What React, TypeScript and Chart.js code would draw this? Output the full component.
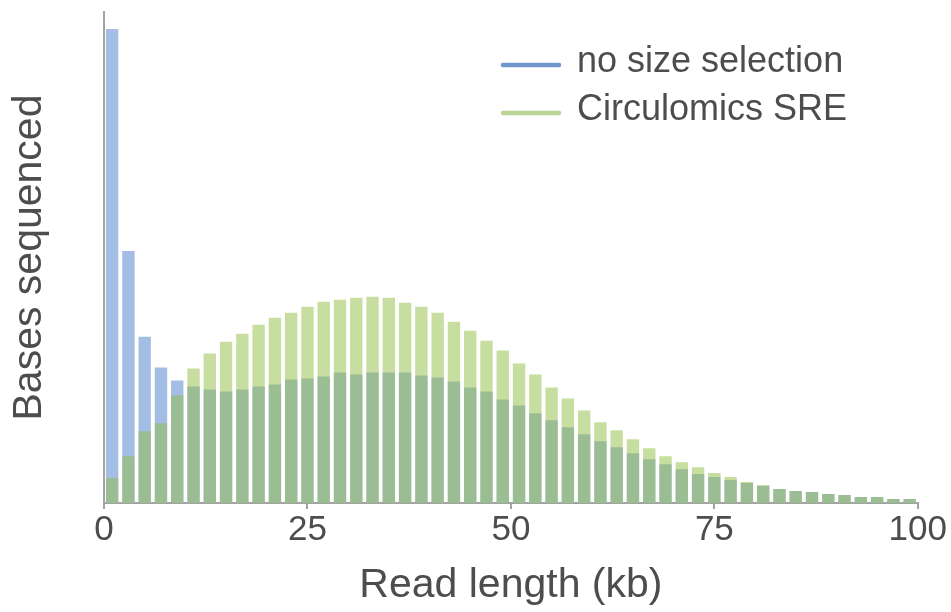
import React, { useEffect, useRef } from "react";
import { Chart, registerables } from "chart.js";

Chart.register(...registerables);

// Histogram bins (kb), 2 kb wide, given by their centres
const binCenters = [
  1, 3, 5, 7, 9, 11, 13, 15, 17, 19, 21, 23, 25, 27, 29, 31, 33, 35, 37, 39,
  41, 43, 45, 47, 49, 51, 53, 55, 57, 59, 61, 63, 65, 67, 69, 71, 73, 75, 77, 79,
  81, 83, 85, 87, 89, 91, 93, 95, 97, 99,
];

// Bases sequenced (relative units)
const noSizeSelection = [
  476, 253, 167, 136, 123, 117, 114, 112, 114, 117, 119, 124, 125, 127, 131, 129, 131, 131, 131, 128,
  126, 122, 116, 112, 104, 98, 90, 83, 76, 69, 62, 56, 50, 44, 39, 34, 29, 26, 23, 20,
  17, 14, 12, 11, 9, 8, 6, 6, 4, 4,
];
const circulomicsSRE = [
  25, 47, 72, 80, 108, 135, 150, 162, 170, 179, 186, 191, 197, 202, 204, 206, 207, 206, 201, 197,
  191, 182, 173, 163, 153, 140, 129, 116, 105, 93, 81, 73, 64, 55, 47, 41, 36, 30, 26, 21,
  18, 14, 12, 11, 9, 8, 6, 6, 4, 4,
];

const seriesLabels = ["no size selection", "Circulomics SRE"];
const legendColors = ["#7096cc", "#b9d494"];
const xTicks = [0, 25, 50, 75, 100];
const yMax = 493;

const FONT = "'Liberation Sans', Arial, Helvetica, sans-serif";
const TEXT = "#4d4d4d";
const AXIS = "#a3a3a3";

const insideLegend = {
  id: "insideLegend",
  afterDraw(chart: any) {
    const { ctx, chartArea } = chart;
    const lineStart = chartArea.left + 399;
    const lineEnd = lineStart + 56;
    const textX = lineEnd + 18;
    const firstY = chartArea.top + 53;
    const rowGap = 48;
    ctx.save();
    ctx.font = `36px ${FONT}`;
    ctx.textAlign = "left";
    ctx.textBaseline = "middle";
    seriesLabels.forEach((label, i) => {
      const y = firstY + i * rowGap;
      ctx.strokeStyle = legendColors[i];
      ctx.lineWidth = 4.5;
      ctx.lineCap = "round";
      ctx.beginPath();
      ctx.moveTo(lineStart, y);
      ctx.lineTo(lineEnd, y);
      ctx.stroke();
      ctx.fillStyle = TEXT;
      ctx.fillText(label, textX, y - 3);
    });
    ctx.restore();
  },
};

export default function App() {
  const canvasRef = useRef<HTMLCanvasElement | null>(null);

  useEffect(() => {
    if (!canvasRef.current) return;
    const chart = new Chart(canvasRef.current, {
      type: "bar",
      data: {
        datasets: [
          {
            label: seriesLabels[1],
            data: binCenters.map((x, i) => ({ x, y: circulomicsSRE[i] })),
            backgroundColor: "rgba(145,189,65,0.5)",
            borderWidth: 0,
            grouped: false,
            order: 0,
            barPercentage: 0.76,
            categoryPercentage: 1,
          } as any,
          {
            label: seriesLabels[0],
            data: binCenters.map((x, i) => ({ x, y: noSizeSelection[i] })),
            backgroundColor: "#a3bde4",
            borderWidth: 0,
            grouped: false,
            order: 1,
            barPercentage: 0.76,
            categoryPercentage: 1,
          } as any,
        ],
      },
      options: {
        animation: false,
        responsive: true,
        maintainAspectRatio: false,
        layout: { padding: { top: 12, right: 33, bottom: 0, left: 0 } },
        plugins: {
          legend: { display: false },
          tooltip: { enabled: false },
        },
        scales: {
          x: {
            type: "linear",
            min: 0,
            max: 100,
            offset: false,
            afterBuildTicks: (scale: any) => {
              scale.ticks = xTicks.map((v) => ({ value: v }));
            },
            grid: {
              offset: false,
              drawOnChartArea: false,
              drawTicks: true,
              tickLength: 6,
              color: AXIS,
              lineWidth: 2,
            },
            border: { display: true, color: AXIS, width: 2 },
            ticks: {
              padding: 4,
              color: TEXT,
              font: { family: FONT, size: 35, lineHeight: 1 },
              maxRotation: 0,
            },
            title: {
              display: true,
              text: "Read length (kb)",
              color: TEXT,
              font: { family: FONT, size: 41, lineHeight: 1.2 },
              padding: { top: 8.8, bottom: 2 },
            },
          },
          y: {
            min: 0,
            max: yMax,
            grid: { display: false },
            border: { display: true, color: AXIS, width: 2 },
            ticks: { display: false },
            title: {
              display: true,
              text: "Bases sequenced",
              color: TEXT,
              font: { family: FONT, size: 41, lineHeight: 1.2 },
              padding: { top: 5, bottom: 41.8 },
            },
          },
        },
      },
      plugins: [insideLegend],
    });
    return () => chart.destroy();
  }, []);

  return (
    <div style={{ position: "absolute", left: 0, top: 0, width: 951, height: 612, background: "#ffffff" }}>
      <canvas ref={canvasRef} />
    </div>
  );
}
